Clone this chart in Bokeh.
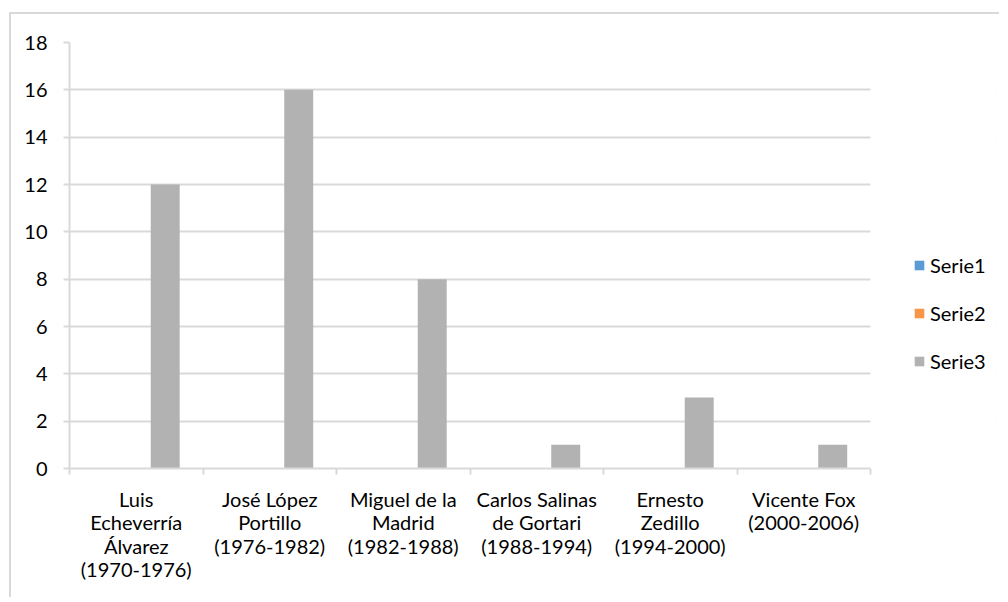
from bokeh.plotting import figure
from bokeh.models import FixedTicker, Legend, LegendItem, ColumnDataSource, BoxAnnotation
from bokeh.embed import file_html
from bokeh.resources import INLINE

categories = ["Luis\nEcheverría\nÁlvarez\n(1970-1976)",
              "José López\nPortillo\n(1976-1982)",
              "Miguel de la\nMadrid\n(1982-1988)",
              "Carlos Salinas\nde Gortari\n(1988-1994)",
              "Ernesto\nZedillo\n(1994-2000)",
              "Vicente Fox\n(2000-2006)"]
series_names = ["Serie1", "Serie2", "Serie3"]
serie1 = [0, 0, 0, 0, 0, 0]
serie2 = [0, 0, 0, 0, 0, 0]
serie3 = [12, 16, 8, 1, 3, 1]
y_ticks = [0, 2, 4, 6, 8, 10, 12, 14, 16, 18]

colors = ["#5b9bd5", "#f79646", "#b2b2b2"]
FONT = "Lato"
FS = "20px"
GRID = "#d9d9d9"
TXT = "#000000"

n = len(categories)
centers = [i + 0.5 for i in range(n)]
bw = 0.217

W, H = 990, 585
ML, MT, MR, MB = 58, 28, 5, 131
plot_span_px = 801          # pixel width of the category area
frame_w = W - ML - MR
x_end = n * frame_w / plot_span_px

p = figure(width=W, height=H, x_range=(0, x_end), y_range=(0, 18),
           output_backend="svg", toolbar_location=None,
           min_border_left=ML, min_border_top=MT, min_border_right=MR, min_border_bottom=MB)
p.styles = {"margin-left": "9px", "margin-top": "12px",
            "border-left": "2px solid #d9d9d9", "border-top": "2px solid #d9d9d9"}
p.outline_line_color = None
p.background_fill_color = "white"
p.border_fill_color = "white"

renderers = []
for k, (name, vals) in enumerate(zip(series_names, [serie1, serie2, serie3])):
    src = ColumnDataSource(dict(x=[c + (k - 1) * bw for c in centers], top=vals))
    r = p.vbar(x="x", top="top", bottom=0, width=bw, source=src,
               fill_color=colors[k], line_color=None)
    renderers.append(r)

# blank area right of the category span (legend area)
p.add_layout(BoxAnnotation(left=n, fill_color="white", fill_alpha=1.0, line_color=None))

# x axis
xt = FixedTicker(ticks=centers, minor_ticks=list(range(n + 1)))
p.xaxis.ticker = xt
p.xaxis.bounds = (0, n)
p.xaxis.major_label_overrides = {c: lab for c, lab in zip(centers, categories)}
p.xaxis.major_tick_out = 0
p.xaxis.major_tick_in = 0
p.xaxis.minor_tick_out = 6
p.xaxis.minor_tick_in = 0
p.xaxis.minor_tick_line_color = GRID
p.xaxis.minor_tick_line_width = 2
p.xaxis.axis_line_color = GRID
p.xaxis.axis_line_width = 2
p.xaxis.major_label_standoff = 12
p.xaxis.major_label_text_font = FONT
p.xaxis.major_label_text_font_size = FS
p.xaxis.major_label_text_color = TXT
p.xaxis.major_label_text_line_height = 0.98

# y axis
p.yaxis.ticker = FixedTicker(ticks=y_ticks)
p.yaxis.major_tick_out = 6
p.yaxis.major_tick_in = 0
p.yaxis.major_tick_line_color = GRID
p.yaxis.major_tick_line_width = 2
p.yaxis.minor_tick_line_color = None
p.yaxis.axis_line_color = GRID
p.yaxis.axis_line_width = 2
p.yaxis.major_label_standoff = 16
p.yaxis.major_label_text_font = FONT
p.yaxis.major_label_text_font_size = FS
p.yaxis.major_label_text_color = TXT

p.xgrid.grid_line_color = None
p.ygrid.grid_line_color = GRID
p.ygrid.grid_line_width = 2

legend = Legend(items=[LegendItem(label=nm, renderers=[r]) for nm, r in zip(series_names, renderers)],
                location=(844, 95), margin=0, padding=0, spacing=24,
                glyph_width=12, glyph_height=12, label_standoff=5, label_height=20,
                label_text_font=FONT, label_text_font_size=FS, label_text_color=TXT,
                border_line_color=None, background_fill_alpha=0)
p.add_layout(legend)

open("out.html", "w").write(file_html(p, INLINE))
